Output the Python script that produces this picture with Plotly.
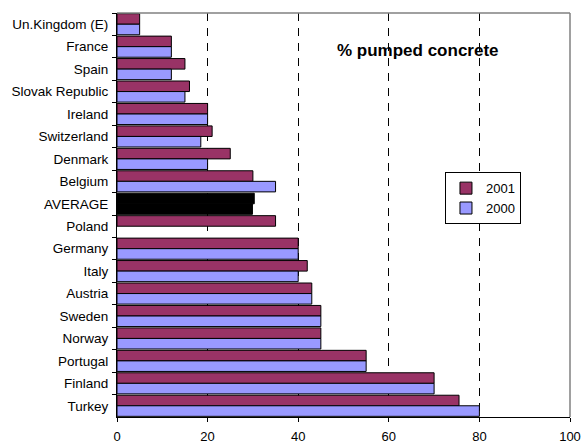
import plotly.graph_objects as go

countries = ["Un.Kingdom (E)", "France", "Spain", "Slovak Republic", "Ireland",
             "Switzerland", "Denmark", "Belgium", "AVERAGE", "Poland", "Germany",
             "Italy", "Austria", "Sweden", "Norway", "Portugal", "Finland", "Turkey"]
values_2001 = [5, 12, 15, 16, 20, 21, 25, 30, 30.3, 35, 40, 42, 43, 45, 45, 55, 70, 75.5]
values_2000 = [5, 12, 12, 15, 20, 18.5, 20, 35, 29.9, None, 40, 40, 43, 45, 45, 55, 70, 80]
x_ticks = [0, 20, 40, 60, 80, 100]

c2001 = "#993366"
c2000 = "#9999FF"
cols2001 = ["#000000" if c == "AVERAGE" else c2001 for c in countries]
cols2000 = ["#000000" if c == "AVERAGE" else c2000 for c in countries]

FONT = "Liberation Sans, Arial, sans-serif"

fig = go.Figure()
fig.add_trace(go.Bar(y=countries, x=values_2001, orientation="h", name="2001",
                     marker=dict(color=cols2001, line=dict(color="black", width=1))))
fig.add_trace(go.Bar(y=countries, x=values_2000, orientation="h", name="2000",
                     marker=dict(color=cols2000, line=dict(color="black", width=1))))

fig.update_layout(
    width=581, height=443,
    margin=dict(l=117, r=11, t=13, b=26, autoexpand=False),
    paper_bgcolor="white", plot_bgcolor="white",
    font=dict(family=FONT, size=13, color="black"),
    barmode="group", bargap=0.06, bargroupgap=0,
    showlegend=True,
    legend=dict(x=0.724, y=0.606, xanchor="left", yanchor="top",
                bgcolor="white", bordercolor="black", borderwidth=1,
                font=dict(size=13), traceorder="normal", itemwidth=30,
                tracegroupgap=0),
    annotations=[dict(text="<b>% pumped concrete</b>", x=0.664, y=0.907,
                      xref="paper", yref="paper", xanchor="center", yanchor="middle",
                      showarrow=False, font=dict(size=17, family=FONT))],
    shapes=[
        dict(type="line", xref="paper", yref="paper", x0=0, x1=1, y0=1, y1=1,
             line=dict(color="#808080", width=1.5)),
        dict(type="line", xref="paper", yref="paper", x0=1, x1=1, y0=0, y1=1,
             line=dict(color="#808080", width=1.5)),
    ],
)
fig.update_xaxes(range=[0, 100], tickvals=x_ticks, ticks="outside", ticklen=4,
                 tickcolor="black", showline=True, linecolor="black", linewidth=1,
                 showgrid=True, gridcolor="black", gridwidth=1, griddash="8px,7px",
                 zeroline=False, fixedrange=True, automargin=False,
                 ticklabeloverflow="allow", ticklabelstandoff=3)
fig.update_yaxes(autorange="reversed", type="category", ticks="outside", ticklen=4,
                 tickcolor="black", tickson="boundaries", showline=True,
                 linecolor="black", linewidth=1, showgrid=False, zeroline=False,
                 automargin=False, fixedrange=True, ticklabelstandoff=5,
                 tickfont=dict(size=13.5))

fig.write_html("out.html", config={"displayModeBar": False, "staticPlot": True},
               post_script="document.body.style.margin='0';document.body.style.overflow='hidden';")
